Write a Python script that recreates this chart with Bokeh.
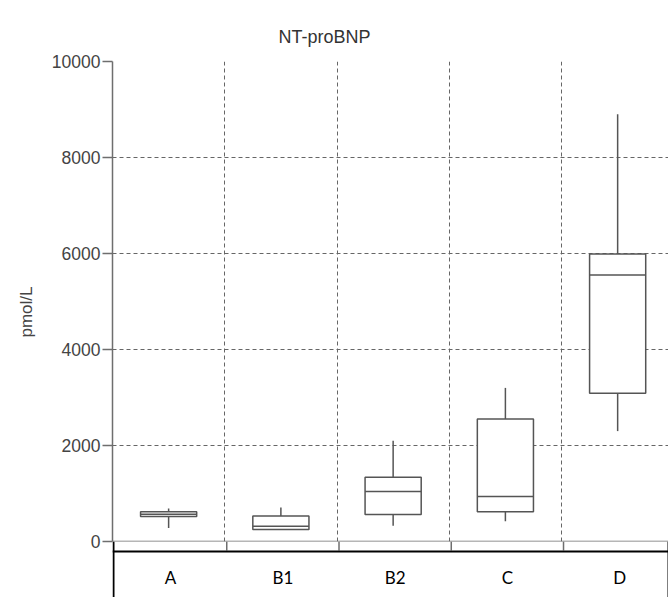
from bokeh.plotting import figure
from bokeh.layouts import column
from bokeh.models import Range1d, FixedTicker, Span, ColumnDataSource, Title
from bokeh.embed import file_html
from bokeh.resources import INLINE
from bokeh.core.properties import value

categories = ["A", "B1", "B2", "C", "D"]
whisker_low = [280, 250, 330, 420, 2300]
q1 = [520, 250, 560, 620, 3090]
median = [570, 320, 1040, 940, 5550]
q3 = [620, 530, 1340, 2550, 5990]
whisker_high = [690, 710, 2100, 3200, 8900]
y_ticks = [0, 2000, 4000, 6000, 8000, 10000]

BOX_W = 0.5
x = [i + 0.5 for i in range(len(categories))]
src = ColumnDataSource(dict(
    x=x, xl=[v - BOX_W / 2 for v in x], xr=[v + BOX_W / 2 for v in x],
    low=whisker_low, q1=q1, med=median, q3=q3, high=whisker_high, cat=categories,
))
bounds = list(range(1, len(categories)))

AX = "#6e6e6e"
BOXC = "#555555"
TXT = "#444444"
X_END = 4.953
PX = 556 / X_END  # pixels per category
BOTTOM_PAD = 14

p = figure(frame_width=556, frame_height=480,
           x_range=Range1d(0, X_END), y_range=Range1d(0, 10000),
           output_backend="svg", toolbar_location=None,
           min_border_left=112, min_border_right=0, min_border_top=61,
           min_border_bottom=BOTTOM_PAD)
p.outline_line_color = None
p.title.text = "NT-proBNP"
p.title.text_font = "Liberation Sans"
p.title.text_font_size = "18px"
p.title.text_font_style = "normal"
p.title.text_color = "#333333"
p.title.align = "left"
p.title.offset = 166
p.title.standoff = 30

# y axis
p.yaxis.ticker = FixedTicker(ticks=y_ticks)
p.yaxis.major_label_text_font = "Liberation Sans"
p.yaxis.major_label_text_font_size = "17.5px"
p.yaxis.major_label_text_color = TXT
p.yaxis.major_label_standoff = 2
p.yaxis.major_tick_out = 10
p.yaxis.major_tick_in = 0
p.yaxis.minor_tick_line_color = None
p.yaxis.axis_line_color = AX
p.yaxis.axis_line_width = 1.5
p.yaxis.major_tick_line_color = AX
p.yaxis.major_tick_line_width = 1.5

ylab = Title(text="pmol/L", align="left", offset=204, standoff=26,
             text_font="Liberation Sans", text_font_size="17px",
             text_font_style="normal", text_color=TXT)
p.add_layout(ylab, "left")

# x axis line only; boundary ticks drawn in the table strip
p.xaxis.visible = False
p.add_layout(Span(location=0, dimension="width", line_color=AX, line_width=1.5))

p.xgrid.ticker = FixedTicker(ticks=bounds)
for g in (p.xgrid, p.ygrid):
    g.grid_line_color = "#666666"
    g.grid_line_dash = "4 3"
    g.grid_line_width = 1

# whiskers
p.segment(x0="x", y0="q3", x1="x", y1="high", source=src, line_color=BOXC, line_width=1.5)
p.segment(x0="x", y0="low", x1="x", y1="q1", source=src, line_color=BOXC, line_width=1.5)
# boxes
p.vbar(x="x", width=BOX_W, bottom="q1", top="q3", source=src,
       fill_color="white", line_color=BOXC, line_width=1.5)
# medians
p.segment(x0="xl", y0="med", x1="xr", y1="med", source=src, line_color=BOXC, line_width=1.5)

# category table below (y measured in pixels from its top); overlaps the plot's bottom border
x0_tab = -1 / PX
x1_tab = 554 / PX
p2 = figure(frame_width=558, frame_height=56,
            x_range=Range1d(-2 / PX, X_END), y_range=Range1d(56, 0),
            output_backend="svg", toolbar_location=None,
            min_border_left=110, min_border_right=0, min_border_top=0, min_border_bottom=0,
            margin=(-BOTTOM_PAD, 0, 0, 0))
p2.outline_line_color = None
p2.background_fill_color = None
p2.border_fill_color = None
p2.xaxis.visible = False
p2.yaxis.visible = False
p2.grid.visible = False
tick_src = ColumnDataSource(dict(x=bounds))
p2.segment(x0="x", y0=0, x1="x", y1=9, source=tick_src, line_color=AX, line_width=1.5)
p2.text(x="x", y=36, text="cat", source=src, text_align="center", text_baseline="middle",
        text_font=value("Lato"), text_font_size="17px", text_color="black")
p2.add_layout(Span(location=x0_tab, dimension="height", line_color="black", line_width=2))
p2.add_layout(Span(location=x1_tab, dimension="height", line_color="black", line_width=2))
p2.add_layout(Span(location=10, dimension="width", line_color="black", line_width=2))

layout = column(p, p2, spacing=0)
open("out.html", "w").write(file_html(layout, INLINE))
